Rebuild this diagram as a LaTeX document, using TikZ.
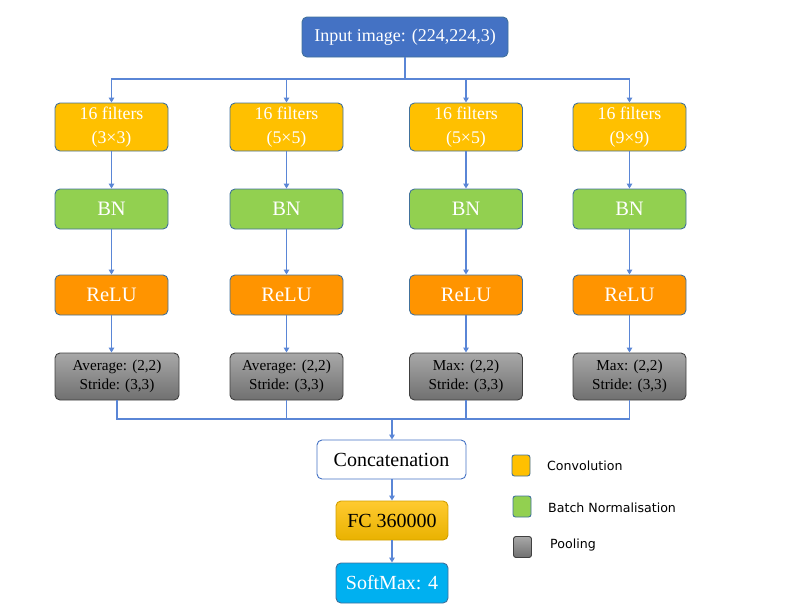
\documentclass[tikz,border=0pt]{standalone}
\usepackage{fontspec}
\setmainfont{Liberation Serif}
\newfontfamily\legfont{DejaVu Sans}
\usetikzlibrary{arrows.meta,positioning}
\definecolor{inblue}{HTML}{4472C4}
\definecolor{filt}{HTML}{FFC000}
\definecolor{bngreen}{HTML}{92D050}
\definecolor{reluor}{HTML}{FF9400}
\definecolor{smblue}{HTML}{00B0F0}
\definecolor{edge}{HTML}{41719C}
\definecolor{lnk}{HTML}{5A86D6}
\definecolor{pooltop}{HTML}{A8A8A8}
\definecolor{poolbot}{HTML}{707070}
\definecolor{fctop}{HTML}{FFCA30}
\definecolor{fcbot}{HTML}{E9B200}
\tikzset{
  box/.style={rectangle, rounded corners=5pt, draw=edge, line width=0.9pt, inner sep=0pt, align=center},
  inbox/.style={box, fill=inblue, text=white, minimum width=206pt, minimum height=40pt, font=\fontsize{18}{20}\selectfont},
  filtbox/.style={box, fill=filt, text=white, minimum width=113pt, minimum height=48pt, font=\fontsize{17.8}{22.5}\selectfont},
  bnbox/.style={box, fill=bngreen, text=white, minimum width=113pt, minimum height=40pt, font=\fontsize{20.5}{22}\selectfont},
  relubox/.style={box, fill=reluor, text=white, minimum width=113pt, minimum height=40pt, font=\fontsize{20.5}{22}\selectfont},
  poolbox/.style={box, draw=black!75, top color=pooltop, bottom color=poolbot, text=black, minimum width=113pt, minimum height=47pt, font=\fontsize{15.2}{18}\selectfont},
  ccbox/.style={box, draw=inblue, fill=white, text=black, minimum width=149pt, minimum height=39pt, font=\fontsize{20}{22}\selectfont},
  fcbox/.style={box, draw=fcbot!90!black, top color=fctop, bottom color=fcbot, text=black, minimum width=112pt, minimum height=39pt, font=\fontsize{20}{22}\selectfont},
  smbox/.style={box, draw=edge, fill=smblue, text=white, minimum width=112pt, minimum height=40pt, font=\fontsize{20}{22}\selectfont},
  legsq/.style={rectangle, rounded corners=2.5pt, draw=edge, line width=0.9pt, minimum width=18pt, minimum height=21pt, inner sep=0pt},
  legtxt/.style={anchor=west, inner sep=0pt, font=\legfont\fontsize{12.6}{14}\selectfont},
  link/.style={draw=lnk, line width=1.1pt},
  arr/.style={link, -{Triangle[width=5.5pt,length=5pt]}}
}
\begin{document}
\begin{tikzpicture}[x=1pt,y=-1pt]
\useasboundingbox (0,0) rectangle (807,611);
\node[inbox] (in) at (405,37) {Input image: (224,224,3)};

\node[filtbox] (f1) at (111.5,127) {16 filters\\[1pt](3\texttimes3)};
\node[filtbox] (f2) at (286.5,127) {16 filters\\[1pt](5\texttimes5)};
\node[filtbox] (f3) at (466,127) {16 filters\\[1pt](5\texttimes5)};
\node[filtbox] (f4) at (629.5,127) {16 filters\\[1pt](9\texttimes9)};

\node[bnbox] (b1) at (111.5,209) {BN};
\node[bnbox] (b2) at (286.5,209) {BN};
\node[bnbox] (b3) at (466,209) {BN};
\node[bnbox] (b4) at (629.5,209) {BN};

\node[relubox] (r1) at (111.5,295) {ReLU};
\node[relubox] (r2) at (286.5,295) {ReLU};
\node[relubox] (r3) at (466,295) {ReLU};
\node[relubox] (r4) at (629.5,295) {ReLU};

\node[poolbox, minimum width=124pt] (p1) at (117,376.5) {Average: (2,2)\\[1.5pt]Stride: (3,3)};
\node[poolbox] (p2) at (286.5,376.5) {Average: (2,2)\\[1.5pt]Stride: (3,3)};
\node[poolbox] (p3) at (466,376.5) {Max: (2,2)\\[1.5pt]Stride: (3,3)};
\node[poolbox] (p4) at (629.5,376.5) {Max: (2,2)\\[1.5pt]Stride: (3,3)};

\node[ccbox] (cc) at (391.5,459.5) {Concatenation};
\node[fcbox] (fc) at (392,520.5) {FC 360000};
\node[smbox] (sm) at (392,583) {SoftMax: 4};

% legend
\node[legsq, fill=filt] (l1) at (521,465.5) {};
\node[legtxt] (t1) at (547,465.5) {Convolution};
\node[legsq, fill=bngreen] (l2) at (522,506.5) {};
\node[legtxt] (t2) at (548,507.5) {Batch Normalisation};
\node[legsq, draw=black!75, top color=pooltop, bottom color=poolbot] (l3) at (522.5,547) {};
\node[legtxt] (t3) at (550,545.5) {Pooling};

% connectors
\coordinate (split) at (405,79);
\draw[link] (in.south) -- (split);
\draw[arr] (split) -| (f1.north);
\draw[arr] (split) -| (f2.north);
\draw[arr] (split) -| (f3.north);
\draw[arr] (split) -| (f4.north);

\foreach \i in {1,2,3,4}{
  \draw[arr] (f\i.south) -- (b\i.north);
  \draw[arr] (b\i.south) -- (r\i.north);
  \draw[arr] (r\i.south) -- (r\i.south |- p\i.north);
}

\coordinate (merge) at (392,419);
\draw[link] (p1.south) |- (merge);
\draw[link] (p2.south) |- (merge);
\draw[link] (p3.south) |- (merge);
\draw[link] (p4.south) |- (merge);
\draw[arr] (merge) -- (merge |- cc.north);
\draw[arr] (cc.south -| fc.north) -- (fc.north);
\draw[arr] (fc.south) -- (sm.north);
\end{tikzpicture}
\end{document}
